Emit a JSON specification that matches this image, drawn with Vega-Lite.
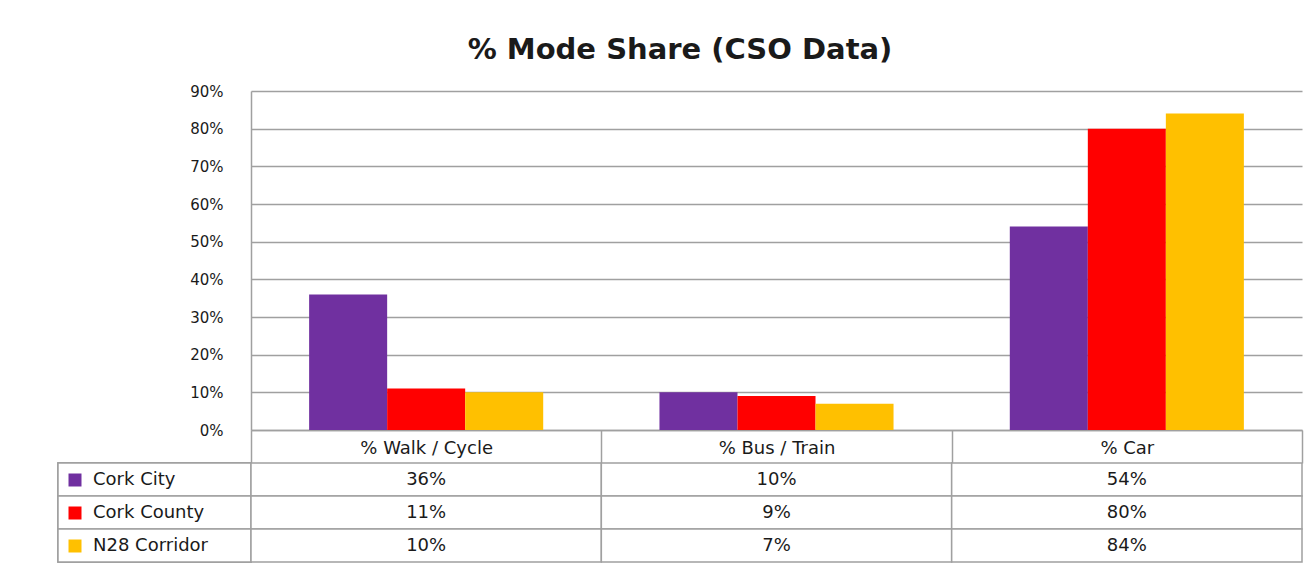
{
  "$schema": "https://vega.github.io/schema/vega-lite/v6.json",
  "background": "white",
  "padding": {"left": 57, "top": 36, "right": 5, "bottom": 2},
  "title": {"text": "% Mode Share (CSO Data)", "font": "DejaVu Sans", "fontSize": 29, "fontWeight": "bold", "color": "#1a1a1a", "anchor": "middle", "offset": 19},
  "config": {"view": {"stroke": null}, "font": "DejaVu Sans"},
  "datasets": {
    "mode": [
      {"category": "% Walk / Cycle", "series": "Cork City", "value": 0.36},
      {"category": "% Walk / Cycle", "series": "Cork County", "value": 0.11},
      {"category": "% Walk / Cycle", "series": "N28 Corridor", "value": 0.10},
      {"category": "% Bus / Train", "series": "Cork City", "value": 0.10},
      {"category": "% Bus / Train", "series": "Cork County", "value": 0.09},
      {"category": "% Bus / Train", "series": "N28 Corridor", "value": 0.07},
      {"category": "% Car", "series": "Cork City", "value": 0.54},
      {"category": "% Car", "series": "Cork County", "value": 0.80},
      {"category": "% Car", "series": "N28 Corridor", "value": 0.84}
    ]
  },
  "data": {"name": "mode"},
  "columns": 2,
  "spacing": {"row": 33, "column": 0},
  "bounds": "flush",
  "resolve": {"scale": {"x": "independent", "y": "independent", "color": "independent"}},
  "concat": [
    {
      "width": 193,
      "height": 339,
      "mark": {"type": "text"},
      "encoding": {"text": {"value": ""}}
    },
    {
      "width": 1051,
      "height": 339,
      "mark": {"type": "bar"},
      "encoding": {
        "x": {
          "field": "category", "type": "nominal",
          "sort": ["% Walk / Cycle", "% Bus / Train", "% Car"],
          "scale": {"paddingInner": 0, "paddingOuter": 0},
          "axis": {"title": null, "labelAngle": 0, "tickBand": "extent", "tickSize": 33, "tickColor": "#a0a0a0", "tickWidth": 1.5, "domainColor": "#a0a0a0", "domainWidth": 1.5, "labelFont": "DejaVu Sans", "labelFontSize": 18, "labelColor": "#1a1a1a", "labelPadding": -24}
        },
        "xOffset": {
          "field": "series", "type": "nominal",
          "sort": ["Cork City", "Cork County", "N28 Corridor"],
          "scale": {"paddingInner": 0, "paddingOuter": 0.745}
        },
        "y": {
          "field": "value", "type": "quantitative",
          "scale": {"domain": [0, 0.9]},
          "axis": {"title": null, "values": [0, 0.1, 0.2, 0.3, 0.4, 0.5, 0.6, 0.7, 0.8, 0.9], "format": ".0%", "grid": true, "gridColor": "#a0a0a0", "gridWidth": 1.5, "ticks": false, "domainColor": "#a0a0a0", "domainWidth": 1.5, "labelPadding": 28, "labelFont": "DejaVu Sans", "labelFontSize": 15, "labelColor": "#1a1a1a"}
        },
        "color": {
          "field": "series", "type": "nominal",
          "scale": {"domain": ["Cork City", "Cork County", "N28 Corridor"], "range": ["#7030A0", "#FF0000", "#FFC000"]},
          "legend": null
        }
      }
    },
    {
      "width": 193,
      "height": 99,
      "layer": [
        {
          "mark": {"type": "square", "size": 169, "opacity": 1},
          "encoding": {
            "y": {"field": "series", "type": "nominal", "sort": ["Cork City", "Cork County", "N28 Corridor"], "scale": {"paddingInner": 0, "paddingOuter": 0}, "axis": null},
            "color": {
              "field": "series", "type": "nominal",
              "scale": {"domain": ["Cork City", "Cork County", "N28 Corridor"], "range": ["#7030A0", "#FF0000", "#FFC000"]},
              "legend": {"title": null, "orient": "top-left", "offset": 8, "padding": 0, "symbolType": "square", "symbolSize": 169, "symbolStrokeWidth": 0, "rowPadding": 15, "labelFont": "DejaVu Sans", "labelFontSize": 18, "labelColor": "#1a1a1a", "labelOffset": 9, "labelLimit": 200}
            }
          }
        },
        {
          "mark": {"type": "rect", "fill": "white", "stroke": "#a0a0a0", "strokeWidth": 1.5},
          "encoding": {
            "y": {"field": "series", "type": "nominal", "sort": ["Cork City", "Cork County", "N28 Corridor"], "axis": null}
          }
        }
      ]
    },
    {
      "width": 1051,
      "height": 99,
      "encoding": {
        "x": {"field": "category", "type": "nominal", "sort": ["% Walk / Cycle", "% Bus / Train", "% Car"], "scale": {"paddingInner": 0, "paddingOuter": 0}, "axis": null},
        "y": {"field": "series", "type": "nominal", "sort": ["Cork City", "Cork County", "N28 Corridor"], "scale": {"paddingInner": 0, "paddingOuter": 0}, "axis": null}
      },
      "layer": [
        {"mark": {"type": "rect", "fill": "white", "stroke": "#a0a0a0", "strokeWidth": 1.5}},
        {
          "mark": {"type": "text", "font": "DejaVu Sans", "fontSize": 18, "color": "#1a1a1a"},
          "encoding": {"text": {"field": "value", "type": "quantitative", "format": ".0%"}}
        }
      ]
    }
  ]
}
